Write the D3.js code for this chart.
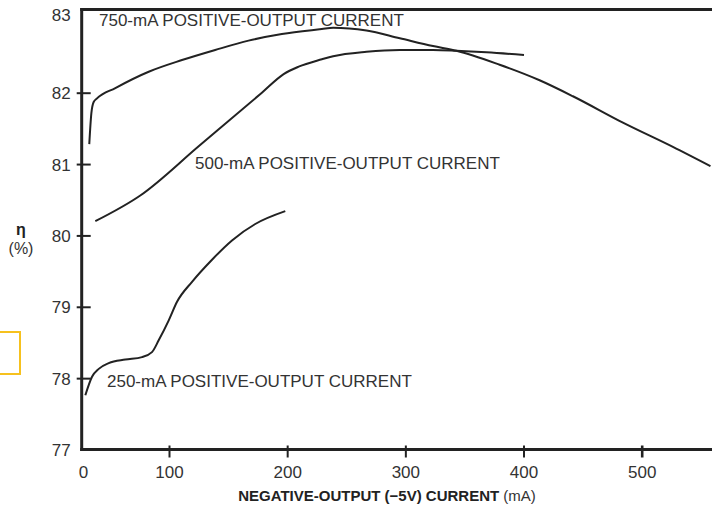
<!DOCTYPE html>
<html>
<head>
<meta charset="utf-8">
<script src="https://cdn.jsdelivr.net/npm/d3@7"></script>
<style>
  body { margin: 0; background: #fff; }
  svg { display: block; font-family: "Liberation Sans", Arial, sans-serif; }
</style>
</head>
<body>
<div id="plot"></div>
<script>
// tick labels
const xTicks = [0, 100, 200, 300, 400, 500];
const yTicks = [77, 78, 79, 80, 81, 82, 83];

// 750-mA positive-output current
const i750 = [7.3, 9.7, 12.4, 16.3, 37.6, 76.4, 111, 139.1, 167.3, 195.5, 229.3, 238.9, 267.1, 295.3, 323.4, 343.2, 379.8, 413.6, 441.8, 484.1, 526.4, 558.2];
const eff750 = [81.28, 81.71, 81.87, 81.92, 82.06, 82.27, 82.42, 82.55, 82.67, 82.755, 82.82, 82.837, 82.8, 82.7, 82.6, 82.54, 82.36, 82.16, 81.95, 81.58, 81.24, 80.97];

// 500-mA positive-output current
const i500 = [14.3, 66.6, 125.1, 178.6, 197, 209.7, 229.4, 238.9, 267.1, 295.3, 323.4, 343.2, 368.6, 400.4];
const eff500 = [80.2, 80.56, 81.25, 82.0, 82.24, 82.335, 82.43, 82.47, 82.527, 82.55, 82.55, 82.54, 82.52, 82.485];

// 250-mA positive-output current
const i250 = [2.7, 10.5, 18.3, 29.9, 49.2, 68.6, 80.2, 88, 99.7, 106.8, 119.5, 136.4, 153.3, 173, 198.4];
const eff250 = [77.76, 78.02, 78.13, 78.21, 78.26, 78.295, 78.365, 78.53, 78.81, 79.07, 79.35, 79.66, 79.93, 80.16, 80.34];

const w = 712;
const h = 506;
const ink = "#222";
const txt = "#333";

const svg = d3.select("#plot")
  .append("svg")
  .attr("width", w)
  .attr("height", h);

// the original axis is not evenly spaced between 0 and 100
const x = d3.scaleLinear().domain([0, 100, 500]).range([83, 169, 641.7]);
const y = d3.scaleLinear().domain([77, 82, 83]).range([449.5, 92.7, 15]);

// yellow box at the left edge
svg.append("rect")
  .attr("x", -10).attr("y", 332)
  .attr("width", 30).attr("height", 42)
  .attr("fill", "none")
  .attr("stroke", "#f6c11e")
  .attr("stroke-width", 2);

// x axis
const xAxis = svg.append("g")
  .attr("transform", "translate(0,449.5)")
  .call(d3.axisBottom(x).tickValues(xTicks).tickFormat(d3.format("d")));
xAxis.select(".domain").remove();
xAxis.selectAll(".tick line")
  .attr("y1", -4).attr("y2", 8)
  .attr("stroke", ink).attr("stroke-width", d => d == 500 ? 2.6 : 2)
  .attr("display", d => d == 0 ? "none" : null);
xAxis.selectAll(".tick text")
  .attr("y", 28).attr("dy", null)
  .attr("fill", txt)
  .style("font-size", "17px")
  .style("font-family", "\"Liberation Sans\", Arial, sans-serif");

// y axis
const yAxis = svg.append("g")
  .attr("transform", "translate(81.7,0)")
  .call(d3.axisLeft(y).tickValues(yTicks).tickFormat(d3.format("d")));
yAxis.select(".domain").remove();
yAxis.selectAll(".tick line")
  .attr("x1", -5).attr("x2", 9)
  .attr("stroke", ink).attr("stroke-width", 2)
  .attr("display", d => (d == 77 || d == 83) ? "none" : null);
yAxis.selectAll(".tick text")
  .attr("x", -11).attr("dy", "0.35em")
  .attr("fill", txt)
  .style("font-size", "17px")
  .style("font-family", "\"Liberation Sans\", Arial, sans-serif");

// frame
svg.append("line").attr("x1", 81.7).attr("x2", 81.7).attr("y1", 8).attr("y2", 451)
  .attr("stroke", ink).attr("stroke-width", 3);
svg.append("line").attr("x1", 80.2).attr("x2", w).attr("y1", 9.5).attr("y2", 9.5)
  .attr("stroke", ink).attr("stroke-width", 3);
svg.append("line").attr("x1", 80.2).attr("x2", w).attr("y1", 449.5).attr("y2", 449.5)
  .attr("stroke", ink).attr("stroke-width", 3);

// curves
const line = d3.line()
  .x(d => x(d[0]))
  .y(d => y(d[1]))
  .curve(d3.curveMonotoneX);

const curves = [
  d3.zip(i750, eff750),
  d3.zip(i500, eff500),
  d3.zip(i250, eff250)
];

svg.selectAll("path.curve")
  .data(curves)
  .enter()
  .append("path")
  .attr("class", "curve")
  .attr("d", line)
  .attr("fill", "none")
  .attr("stroke", ink)
  .attr("stroke-width", 2);

// curve labels
const labels = svg.append("g")
  .attr("fill", txt)
  .style("font-size", "17px");
labels.append("text").attr("x", 99).attr("y", 26).text("750-mA POSITIVE-OUTPUT CURRENT");
labels.append("text").attr("x", 195).attr("y", 169.3).text("500-mA POSITIVE-OUTPUT CURRENT");
labels.append("text").attr("x", 107).attr("y", 386.7).text("250-mA POSITIVE-OUTPUT CURRENT");

// axis titles
const xt = svg.append("text")
  .attr("x", 387).attr("y", 501)
  .attr("text-anchor", "middle")
  .attr("fill", ink)
  .style("font-size", "15px");
xt.append("tspan").attr("font-weight", "bold").text("NEGATIVE-OUTPUT (\u22125V) CURRENT ");
xt.append("tspan").attr("fill", txt).text("(mA)");

svg.append("text")
  .attr("x", 21).attr("y", 235)
  .attr("text-anchor", "middle")
  .attr("font-weight", "bold")
  .attr("fill", ink)
  .style("font-size", "16px")
  .text("\u03b7");
svg.append("text")
  .attr("x", 21).attr("y", 254)
  .attr("text-anchor", "middle")
  .attr("fill", txt)
  .style("font-size", "16px")
  .text("(%)");
</script>
</body>
</html>
